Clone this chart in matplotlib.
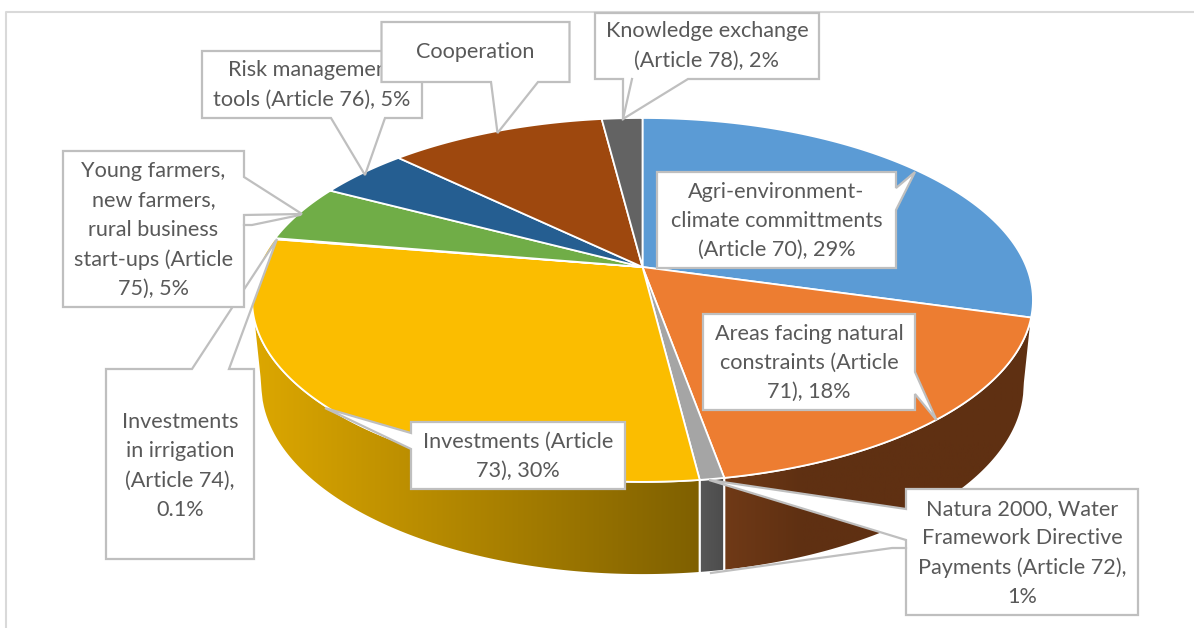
import numpy as np
import matplotlib
matplotlib.use('Agg')
import matplotlib.pyplot as plt
from matplotlib.colors import LinearSegmentedColormap
from matplotlib.patches import Polygon

plt.rcParams['font.family'] = ['Lato', 'DejaVu Sans']

# shares, clockwise from 12 o'clock
categories = ['Agri-environment-climate', 'Natural constraints', 'Natura 2000', 'Investments',
              'Irrigation', 'Young farmers', 'Risk management', 'Cooperation', 'Knowledge exchange']
shares = [29.4, 17.8, 0.85, 29.55, 0.1, 5.1, 4.5, 10.7, 2.0]
colors = ['#5b9bd5', '#ed7d31', '#a5a5a5', '#fbbd00', '#4472c4', '#70ad47', '#255e91', '#9e480e', '#636363']

labels = {
    'agri': 'Agri-environment-\nclimate committments\n(Article 70), 29%',
    'areas': 'Areas facing natural\nconstraints (Article\n71), 18%',
    'natura': 'Natura 2000, Water\nFramework Directive\nPayments (Article 72),\n1%',
    'invest': 'Investments (Article\n73), 30%',
    'irrig': 'Investments\nin irrigation\n(Article 74),\n0.1%',
    'young': 'Young farmers,\nnew farmers,\nrural business\nstart-ups (Article\n75), 5%',
    'risk': 'Risk management\ntools (Article 76), 5%',
    'coop': 'Cooperation',
    'know': 'Knowledge exchange\n(Article 78), 2%',
}

# pie geometry in pixels
CX, CY = 642.5, 267
R, K, Q = 384, 176, -0.181
BOT_CY, BOT_RX, BOT_RY = 385, 382, 190


def rim(pct):
    t = np.radians(np.asarray(pct) * 3.6)
    u, v = np.sin(t), -np.cos(t)
    w = 1 + Q * v
    return CX + R * u / w, CY + K * v / w


def bottom(x):
    dx = np.minimum(np.abs(x - CX), 391)
    inside = BOT_CY + BOT_RY * np.sqrt(np.clip(1 - (dx / BOT_RX) ** 2, 0, 1))
    outside = BOT_CY - (dx - BOT_RX) / 9 * 85
    return np.where(dx <= BOT_RX, inside, outside)


fig = plt.figure(figsize=(11.94, 6.28), dpi=100)
ax = fig.add_axes([0, 0, 1, 1])

# chart frame
ax.plot([6, 6, 1194], [628, 12, 12], color='#d9d9d9', lw=1.5, zorder=1)

cum = np.concatenate([[0], np.cumsum(shares)])
LEFT_PCT = 72.1


def wall(p0, p1, cols, x0, x1):
    pcts = np.linspace(p0, p1, 120)
    xs, ys = rim(pcts)
    pts = np.column_stack([np.r_[xs, xs[::-1]], np.r_[ys, bottom(xs)[::-1]]])
    clip = Polygon(pts, closed=True, fc='none', ec='none', zorder=2)
    ax.add_patch(clip)
    cmap = LinearSegmentedColormap.from_list('w', cols)
    im = ax.imshow(np.linspace(0, 1, 256)[None, :], cmap=cmap, extent=[x0, x1, 600, 290],
                   aspect='auto', zorder=2)
    im.set_clip_path(clip)
    ax.add_patch(Polygon(pts, closed=True, fc='none', ec='white', lw=1.3, zorder=3))


wall(cum[1], cum[2], ['#703a17', '#5f3012', '#5f3012', '#5f3012', '#5f3012'], 723, 1035)
wall(cum[2], cum[3], ['#585858', '#4c4c4c'], 699, 724)
wall(cum[3], LEFT_PCT, ['#dca700', '#7f6000'], 255, 700)

# top of the pie
for i in range(len(shares)):
    xs, ys = rim(np.linspace(cum[i], cum[i + 1], 100))
    pts = np.column_stack([np.r_[CX, xs], np.r_[CY, ys]])
    ax.add_patch(Polygon(pts, closed=True, fc=colors[i], ec='white', lw=1.3, zorder=4))

# callouts: key, text centre, outline, extra leader strokes
callouts = [
    ('irrig', (180, 466), [(106, 369), (192, 369), (277, 239), (229, 369), (254, 369), (254, 559), (106, 559)], []),
    ('risk', (312, 85), [(202, 51), (422, 51), (422, 118), (385, 118), (365, 175), (331, 118), (202, 118)], []),
    ('coop', (475.5, 52), [(381.5, 22), (569.5, 22), (569.5, 82), (538, 82), (497.5, 133), (491, 82), (381.5, 82)], []),
    ('know', (707, 46), [(595, 13), (819, 13), (819, 79), (688, 79), (623, 119), (623, 79), (595, 79)],
     [[(632, 79), (623, 119)]]),
    ('young', (153.5, 230), [(63, 151), (244, 151), (244, 177), (302, 214), (244, 215), (244, 307), (63, 307)],
     [[(244, 225), (252, 225), (300, 215)]]),
    ('agri', (776.5, 221), [(657, 172), (896, 172), (896, 188), (915, 172), (896, 210), (896, 268), (657, 268)], []),
    ('areas', (809, 363), [(703, 314), (915, 314), (915, 372), (936.5, 420), (915, 394), (915, 410), (703, 410)], []),
    ('invest', (518, 456), [(411, 422), (625, 422), (625, 489), (411, 489), (411, 449), (325, 408), (411, 433)], []),
    ('natura', (1022, 553), [(906, 489), (1138, 489), (1138, 615), (906, 615), (906, 540), (709, 480), (906, 509)],
     [[(711, 573), (892, 548), (906, 548)]]),
]

for z, (key, center, outline, extras) in enumerate(callouts):
    zo = 10 + z
    ax.add_patch(Polygon(outline, closed=True, fc='white', ec='#bfbfbf', lw=1.6, zorder=zo))
    ax.text(center[0], center[1], labels[key], ha='center', va='center', fontsize=15.6,
            color='#595959', linespacing=1.58, zorder=zo)
    for seg in extras:
        s = np.array(seg)
        ax.plot(s[:, 0], s[:, 1], color='#bfbfbf', lw=1.6, zorder=zo)

ax.set_xlim(0, 1194)
ax.set_ylim(628, 0)
ax.axis('off')
fig.savefig('out.png', dpi=100, facecolor='white')
